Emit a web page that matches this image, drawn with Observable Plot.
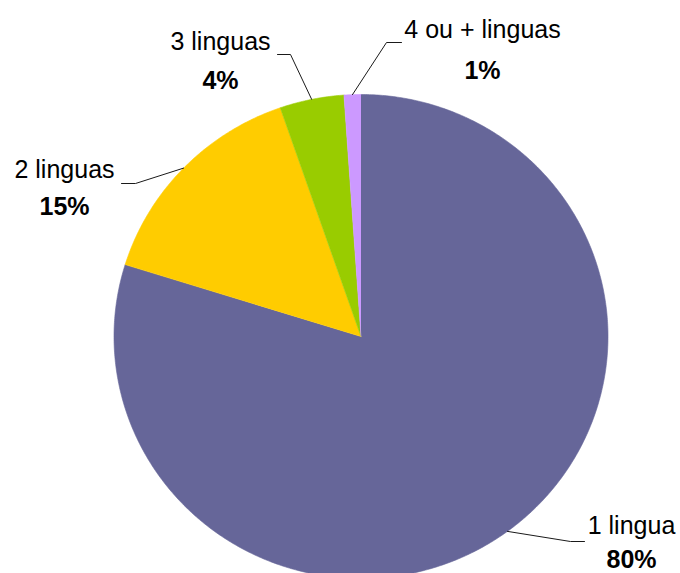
<!DOCTYPE html>
<html><head><meta charset="utf-8">
<script src="https://cdn.jsdelivr.net/npm/d3@7"></script>
<script src="https://cdn.jsdelivr.net/npm/@observablehq/plot@0.6"></script>
<style>body{margin:0;background:#fff} #chart{width:680px;height:573px;overflow:hidden}</style>
</head><body><div id="chart"></div>
<script>
// ---- data ----
const categories = ["1 lingua", "2 linguas", "3 linguas", "4 ou + linguas"];
const values = [79.8, 14.9, 4.2, 1.1];
const pctLabels = ["80%", "15%", "4%", "1%"];
const colors = ["#666699", "#FFCC00", "#99CC00", "#CC99FF"];

// ---- layout (pixels) ----
const W = 680, H = 573;
const cx = 360.5, cy = 336, rx = 247, ry = 242;
const labelLayout = [
  {tx: 631, y1: 533, y2: 567, corner: [570, 541], end: [584, 541]},
  {tx: 64,  y1: 177, y2: 214, corner: [135, 183], end: [121, 183]},
  {tx: 220, y1: 49,  y2: 88,  corner: [290, 54],  end: [277, 54]},
  {tx: 482, y1: 37,  y2: 78,  corner: [386, 42],  end: [401, 42]}
];

const arcs = d3.pie().sort(null).value(d => d.value)(
  categories.map((c, i) => ({cat: c, value: values[i]}))
);
const px = a => cx + rx * Math.sin(a);
const py = a => cy - ry * Math.cos(a);

const slicePts = [];
arcs.forEach(a => {
  const cat = a.data.cat;
  slicePts.push({cat, x: cx, y: cy});
  const n = Math.max(2, Math.ceil((a.endAngle - a.startAngle) / (2 * Math.PI) * 720));
  for (let k = 0; k <= n; k++) {
    const t = a.startAngle + (a.endAngle - a.startAngle) * k / n;
    slicePts.push({cat, x: px(t), y: py(t)});
  }
});

const leaderPts = [];
const labels = [];
arcs.forEach((a, i) => {
  const L = labelLayout[i];
  const mid = (a.startAngle + a.endAngle) / 2;
  const cat = a.data.cat;
  leaderPts.push({cat, x: px(mid), y: py(mid)});
  leaderPts.push({cat, x: L.corner[0], y: L.corner[1]});
  leaderPts.push({cat, x: L.end[0], y: L.end[1]});
  labels.push({cat, pct: pctLabels[i], tx: L.tx, y1: L.y1, y2: L.y2});
});

const font = "'Liberation Sans', Arial, Helvetica, sans-serif";
const chart = Plot.plot({
  width: W, height: H, margin: 0,
  style: {fontFamily: font, background: "#fff"},
  x: {domain: [0, W], range: [0, W], axis: null},
  y: {domain: [0, H], range: [0, H], axis: null},
  color: {domain: categories, range: colors},
  marks: [
    Plot.line(slicePts, {x: "x", y: "y", z: "cat", fill: "cat", stroke: "cat", strokeWidth: 0.6}),
    Plot.line(leaderPts, {x: "x", y: "y", z: "cat", stroke: "#1a1a1a", strokeWidth: 1}),
    Plot.text(labels, {x: "tx", y: "y1", text: "cat", fontSize: 25, fontFamily: font, lineAnchor: "bottom", textAnchor: "middle", fill: "#000"}),
    Plot.text(labels, {x: "tx", y: "y2", text: "pct", fontSize: 25, fontWeight: "bold", fontFamily: font, lineAnchor: "bottom", textAnchor: "middle", fill: "#000"})
  ]
});
document.getElementById("chart").appendChild(chart);
</script>
</body></html>
